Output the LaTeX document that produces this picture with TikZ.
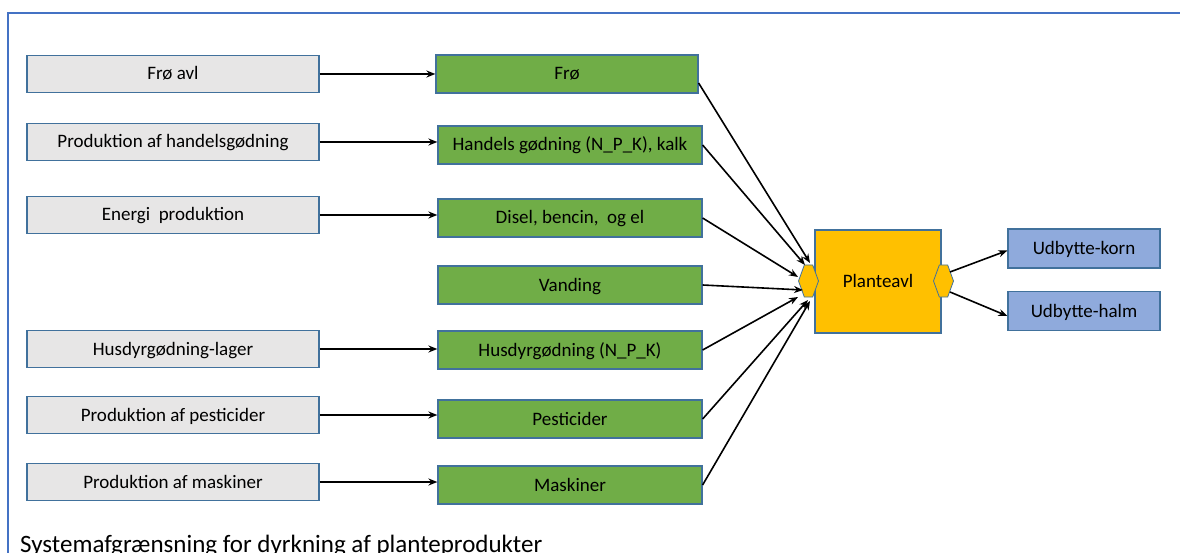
\documentclass[tikz,border=0pt]{standalone}
\usepackage{fontspec}
\setmainfont{Carlito}
\usetikzlibrary{shapes.symbols,calc,arrows.meta}
\definecolor{boxline}{HTML}{41719C}
\definecolor{grayfill}{HTML}{E7E6E6}
\definecolor{greenfill}{HTML}{70AD47}
\definecolor{orangefill}{HTML}{FFC000}
\definecolor{bluefill}{HTML}{8FAADC}
\definecolor{framecol}{HTML}{4472C4}
\begin{document}
\begin{tikzpicture}[x=1pt,y=-1pt,
 box/.style={draw=boxline,line width=1.2pt,inner sep=0pt,font=\fontsize{19}{22}\selectfont,text=black,text height=13.5pt,text depth=1.5pt},
 src/.style={box,fill=grayfill,minimum width=292pt,minimum height=37pt},
 inp/.style={box,fill=greenfill,minimum width=264pt,minimum height=38pt},
 outbox/.style={box,fill=bluefill,minimum width=152pt,minimum height=39pt},
 hexa/.style={draw=boxline,line width=0.8pt,fill=orangefill,shape=signal,signal to=west and east,signal pointer angle=140,minimum width=20pt,minimum height=32pt,inner sep=0pt},
 arr/.style={-{Stealth[length=9pt,width=7pt]},line width=1.6pt,black}
]
\useasboundingbox (0,0) rectangle (1180,553);
\draw[framecol,line width=1.5pt] (8,13) rectangle (1220,620);

\node[src] (s1) at (173,74) {Frø avl};
\node[src] (s2) at (173,142) {Produktion af handelsgødning};
\node[src] (s3) at (173,215) {Energi\ \ produktion};
\node[src] (s5) at (173,349) {Husdyrgødning-lager};
\node[src] (s6) at (173,415) {Produktion af pesticider};
\node[src] (s7) at (173,482) {Produktion af maskiner};

\node[inp,minimum width=262pt] (i1) at (567,74) {Frø};
\node[inp] (i2) at (570,145) {Handels gødning (N\_P\_K), kalk};
\node[inp] (i3) at (570,218) {Disel, bencin,\ \ og el};
\node[inp] (i4) at (570,285) {Vanding};
\node[inp] (i5) at (570,350) {Husdyrgødning (N\_P\_K)};
\node[inp] (i6) at (570,419) {Pesticider};
\node[inp] (i7) at (570,485) {Maskiner};

\node[box,fill=orangefill,minimum width=126pt,minimum height=103pt] (p) at (878,281.5) {Planteavl};
\node[hexa] (hl) at (808.5,281) {};
\node[hexa] (hr) at (943.5,281) {};

\node[outbox] (o1) at (1084,248.5) {Udbytte-korn};
\node[outbox] (o2) at (1084,311) {Udbytte-halm};

\foreach \s/\i in {s1/i1,s2/i2,s3/i3,s5/i5,s6/i6,s7/i7}
  \draw[arr] (\s.east) -- (\s.east -| \i.west);

\draw[arr] ([yshift=-9pt]i1.east) -- ($(hl.center)+(1.5,-18)$);
\draw[arr] (i2.east) -- ($(hl.center)+(-3.5,-16)$);
\draw[arr] (i3.east) -- ($(hl.center)+(-10.5,-4)$);
\draw[arr] (i4.east) -- ($(hl.center)+(-5.5,9)$);
\draw[arr] (i5.east) -- ($(hl.center)+(-10.5,16)$);
\draw[arr] (i6.east) -- ($(hl.center)+(-0.5,19)$);
\draw[arr] (i7.east) -- ($(hl.center)+(1.5,20)$);

\draw[arr] ($(hr.center)+(6.5,-9)$) -- ([yshift=-2pt]o1.west);
\draw[arr] ($(hr.center)+(6.5,11)$) -- ([yshift=-5pt]o2.west);

\node[anchor=base west,inner sep=0pt,font=\fontsize{25}{30}\selectfont,text=black] (cap) at (20,552) {Systemafgrænsning for dyrkning af planteprodukter};
\end{tikzpicture}
\end{document}
